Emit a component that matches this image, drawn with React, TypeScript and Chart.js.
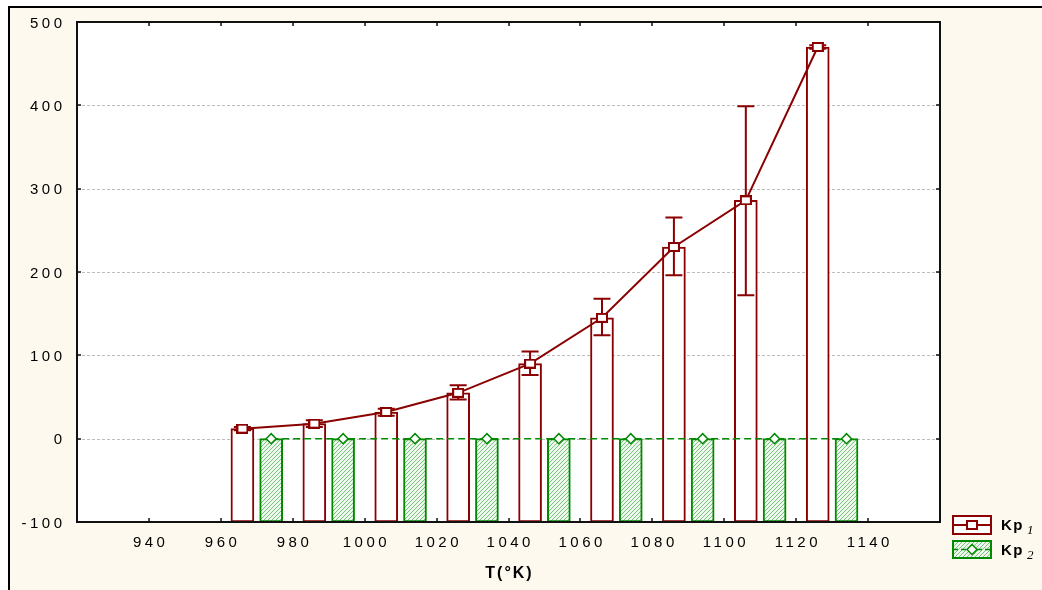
import React, { useEffect, useRef } from 'react';
import { Chart, registerables } from 'chart.js';

Chart.register(...registerables);

// ---- data ----
const kp1T = [966, 986, 1006, 1026, 1046, 1066, 1086, 1106, 1126];
const kp1Values = [12, 18, 32, 55, 90, 145, 230, 286, 470];
const kp1ErrLow = [10, 14, 27.5, 47, 76.5, 124, 196, 172, 468];
const kp1ErrHigh = [14, 22, 36, 64, 104.5, 168, 265.5, 399, 472];
const kp2T = [974, 994, 1014, 1034, 1054, 1074, 1094, 1114, 1134];
const kp2Values = [0, 0, 0, 0, 0, 0, 0, 0, 0];
const xTicks = [940, 960, 980, 1000, 1020, 1040, 1060, 1080, 1100, 1120, 1140];
const yTicks = [-100, 0, 100, 200, 300, 400, 500];
const gridValues = [0, 100, 200, 300, 400];
const xMin = 920;
const xMax = 1160;
const yMin = -100;
const yMax = 500;
const xTitle = 'T(°K)';
const legendLabels = ['Kp', 'Kp'];
const legendSubs = ['1', '2'];

const RED = '#8B0000';
const GREEN = '#008a00';
const CREAM = '#fdf9ee';
const FONT = '"Liberation Sans", Arial, sans-serif';

function makeSquare(): HTMLCanvasElement {
  const c = document.createElement('canvas');
  c.width = 12;
  c.height = 10;
  const g = c.getContext('2d')!;
  g.fillStyle = '#fff';
  g.fillRect(1, 1, 10, 8);
  g.strokeStyle = RED;
  g.lineWidth = 2;
  g.strokeRect(1, 1, 10, 8);
  return c;
}

function makeHatch(ctx: CanvasRenderingContext2D): CanvasPattern | string {
  const c = document.createElement('canvas');
  c.width = 4;
  c.height = 4;
  const g = c.getContext('2d')!;
  g.fillStyle = '#eef7ee';
  g.fillRect(0, 0, 4, 4);
  g.strokeStyle = '#7cc47c';
  g.lineWidth = 1;
  g.beginPath();
  g.moveTo(0, 4);
  g.lineTo(4, 0);
  g.moveTo(-1, 1);
  g.lineTo(1, -1);
  g.moveTo(3, 5);
  g.lineTo(5, 3);
  g.stroke();
  return ctx.createPattern(c, 'repeat') || '#cfe8cf';
}

export default function App() {
  const ref = useRef<HTMLCanvasElement | null>(null);

  useEffect(() => {
    const canvas = ref.current!;
    const ctx0 = canvas.getContext('2d')!;
    const square = makeSquare();
    const hatch = makeHatch(ctx0);

    const drawDiamond = (ctx: CanvasRenderingContext2D, cx: number, cy: number, r: number) => {
      ctx.beginPath();
      ctx.moveTo(cx, cy - r);
      ctx.lineTo(cx + r, cy);
      ctx.lineTo(cx, cy + r);
      ctx.lineTo(cx - r, cy);
      ctx.closePath();
      ctx.fillStyle = '#fff';
      ctx.fill();
      ctx.strokeStyle = GREEN;
      ctx.lineWidth = 1.5;
      ctx.stroke();
    };

    const custom = {
      id: 'customDecor',
      beforeDraw(chart: any) {
        const { ctx, chartArea: a, width, height } = chart;
        ctx.save();
        ctx.fillStyle = '#fff';
        ctx.fillRect(0, 0, width, height);
        ctx.fillStyle = CREAM;
        ctx.fillRect(8, 7, width - 8, height - 7);
        ctx.fillStyle = '#000';
        ctx.fillRect(8, 6, width - 8, 2);
        ctx.fillRect(8, 6, 2, height - 6);
        ctx.fillStyle = '#fff';
        ctx.fillRect(a.left, a.top, a.right - a.left, a.bottom - a.top);
        const ys = chart.scales.y;
        ctx.strokeStyle = '#bdbdbd';
        ctx.lineWidth = 1;
        ctx.setLineDash([3, 2]);
        gridValues.forEach((v) => {
          const py = Math.round(ys.getPixelForValue(v)) + 0.5;
          ctx.beginPath();
          ctx.moveTo(a.left, py);
          ctx.lineTo(a.right, py);
          ctx.stroke();
        });
        ctx.restore();
      },
      beforeDatasetDraw(chart: any, args: any) {
        if (args.index !== 2) return;
        const { ctx } = chart;
        const xs = chart.scales.x;
        const ys = chart.scales.y;
        ctx.save();
        ctx.strokeStyle = RED;
        ctx.lineWidth = 2;
        kp1T.forEach((t, i) => {
          const px = xs.getPixelForValue(t);
          const hi = ys.getPixelForValue(kp1ErrHigh[i]);
          const lo = ys.getPixelForValue(kp1ErrLow[i]);
          ctx.beginPath();
          ctx.moveTo(px, hi);
          ctx.lineTo(px, lo);
          ctx.moveTo(px - 8.5, hi);
          ctx.lineTo(px + 8.5, hi);
          ctx.moveTo(px - 8.5, lo);
          ctx.lineTo(px + 8.5, lo);
          ctx.stroke();
        });
        ctx.restore();
      },
      afterDraw(chart: any) {
        const { ctx, chartArea: a } = chart;
        const xs = chart.scales.x;
        const ys = chart.scales.y;
        ctx.save();
        // frame
        ctx.strokeStyle = '#111';
        ctx.lineWidth = 2;
        ctx.strokeRect(a.left, a.top, a.right - a.left, a.bottom - a.top);
        // inner ticks
        ctx.lineWidth = 1.5;
        ctx.beginPath();
        xTicks.forEach((t) => {
          const px = Math.round(xs.getPixelForValue(t));
          ctx.moveTo(px, a.bottom);
          ctx.lineTo(px, a.bottom - 4);
          ctx.moveTo(px, a.top);
          ctx.lineTo(px, a.top + 4);
        });
        yTicks.forEach((v) => {
          const py = Math.round(ys.getPixelForValue(v));
          ctx.moveTo(a.left, py);
          ctx.lineTo(a.left + 4, py);
          ctx.moveTo(a.right, py);
          ctx.lineTo(a.right - 4, py);
        });
        ctx.stroke();

        // tick labels
        const ls = 3.5;
        ctx.fillStyle = '#000';
        ctx.font = `15px ${FONT}`;
        (ctx as any).letterSpacing = `${ls}px`;
        ctx.textBaseline = 'alphabetic';
        ctx.textAlign = 'right';
        yTicks.forEach((v) => {
          const py = ys.getPixelForValue(v);
          ctx.fillText(String(v), a.left - 15 + ls, py + 5.5);
        });
        ctx.textAlign = 'center';
        xTicks.forEach((t) => {
          const px = xs.getPixelForValue(t);
          ctx.fillText(String(t), px + ls / 2, a.bottom + 24.5);
        });
        // axis title
        ctx.font = `bold 16px ${FONT}`;
        (ctx as any).letterSpacing = '2px';
        ctx.fillText(xTitle, (a.left + a.right) / 2 + 1, a.bottom + 56);

        // legend
        (ctx as any).letterSpacing = '0px';
        const lx = 953;
        const bw = 38;
        const rows = [525, 549.5];
        // row 1 (Kp1)
        ctx.fillStyle = '#fff';
        ctx.fillRect(lx, rows[0] - 9, bw, 18);
        ctx.strokeStyle = RED;
        ctx.lineWidth = 2;
        ctx.strokeRect(lx, rows[0] - 9, bw, 18);
        ctx.beginPath();
        ctx.moveTo(lx, rows[0]);
        ctx.lineTo(lx + bw, rows[0]);
        ctx.stroke();
        ctx.drawImage(square, lx + bw / 2 - 6, rows[0] - 5);
        // row 2 (Kp2)
        ctx.fillStyle = hatch;
        ctx.fillRect(lx, rows[1] - 8.5, bw, 17);
        ctx.strokeStyle = GREEN;
        ctx.lineWidth = 2;
        ctx.strokeRect(lx, rows[1] - 8.5, bw, 17);
        ctx.lineWidth = 1.5;
        ctx.setLineDash([5, 3]);
        ctx.beginPath();
        ctx.moveTo(lx, rows[1]);
        ctx.lineTo(lx + bw, rows[1]);
        ctx.stroke();
        ctx.setLineDash([]);
        drawDiamond(ctx, lx + bw / 2, rows[1], 5);
        // labels
        ctx.textAlign = 'left';
        ctx.fillStyle = '#000';
        rows.forEach((ry, i) => {
          ctx.font = `bold 15px ${FONT}`;
          (ctx as any).letterSpacing = '1.5px';
          ctx.fillText(legendLabels[i], 1001, ry + 5);
          const w = ctx.measureText(legendLabels[i]).width;
          (ctx as any).letterSpacing = '0px';
          ctx.font = `italic 13px "Liberation Serif", serif`;
          ctx.fillText(legendSubs[i], 1001 + w + 3, ry + 9);
        });
        ctx.restore();
      },
    };

    const chart = new Chart(canvas, {
      type: 'bar',
      data: {
        datasets: [
          {
            type: 'bar',
            label: 'Kp1 bars',
            data: kp1T.map((t, i) => ({ x: t, y: [yMin, kp1Values[i]] })) as any,
            backgroundColor: '#fff',
            borderColor: RED,
            borderWidth: 2,
            borderSkipped: false,
            barThickness: 23,
            grouped: false,
            order: 2,
          },
          {
            type: 'bar',
            label: 'Kp2 bars',
            data: kp2T.map((t, i) => ({ x: t, y: [yMin, kp2Values[i]] })) as any,
            backgroundColor: hatch as any,
            borderColor: GREEN,
            borderWidth: 2,
            borderSkipped: false,
            barThickness: 23,
            grouped: false,
            order: 2,
          },
          {
            type: 'line',
            label: 'Kp1',
            data: kp1T.map((t, i) => ({ x: t, y: kp1Values[i] })),
            borderColor: RED,
            borderWidth: 2,
            pointStyle: square as any,
            pointRadius: 6,
            tension: 0,
            fill: false,
            order: 1,
          },
          {
            type: 'line',
            label: 'Kp2',
            data: kp2T.map((t, i) => ({ x: t, y: kp2Values[i] })),
            borderColor: GREEN,
            borderWidth: 1.5,
            borderDash: [7, 4],
            pointStyle: 'rectRot',
            pointRadius: 5,
            pointBackgroundColor: '#fff',
            pointBorderColor: GREEN,
            pointBorderWidth: 1.5,
            tension: 0,
            fill: false,
            order: 1,
          },
        ] as any,
      },
      options: {
        responsive: false,
        animation: false,
        events: [],
        layout: { padding: { left: 77, top: 22, right: 102, bottom: 68 } },
        plugins: { legend: { display: false }, tooltip: { enabled: false } },
        scales: {
          x: { type: 'linear', min: xMin, max: xMax, offset: false, display: false },
          y: { type: 'linear', min: yMin, max: yMax, display: false },
        },
      },
      plugins: [custom],
    });

    return () => chart.destroy();
  }, []);

  return (
    <div style={{ position: 'fixed', left: 0, top: 0, width: 1042, height: 590 }}>
      <canvas ref={ref} width={1042} height={590} style={{ display: 'block' }} />
    </div>
  );
}
